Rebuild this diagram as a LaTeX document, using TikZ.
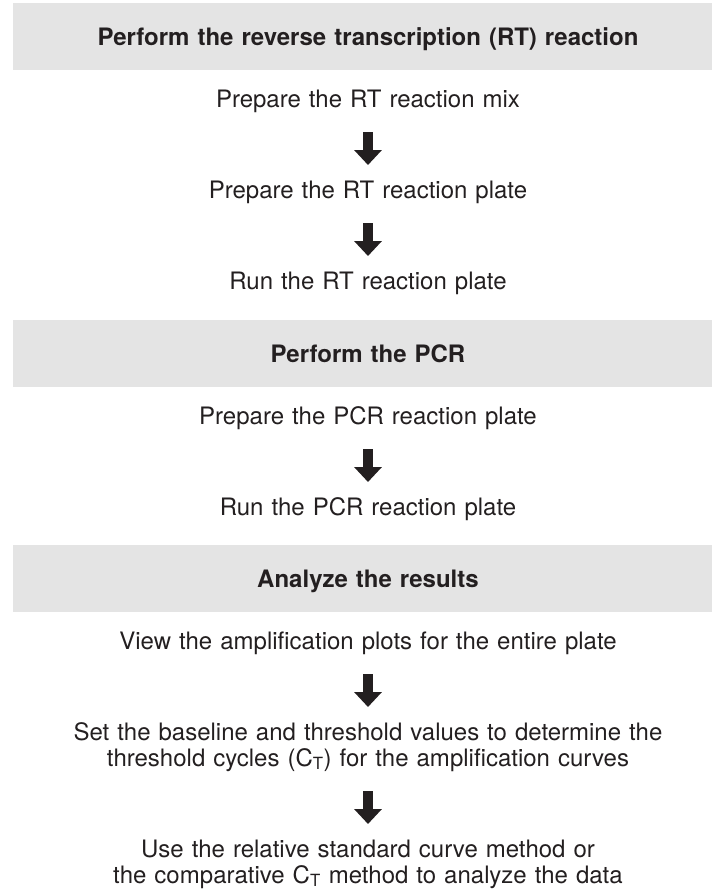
\documentclass[tikz,border=0pt]{standalone}
\usepackage{fontspec}
\setmainfont{TeX Gyre Heros}
\usetikzlibrary{arrows.meta}
\definecolor{bandgray}{HTML}{E4E4E4}
\definecolor{inkblack}{HTML}{231F20}

\begin{document}
\begin{tikzpicture}[x=1pt,y=-1pt,
  band/.style={fill=bandgray},
  task/.style={inner sep=0pt,text width=690pt,align=center,text height=17pt,text depth=0pt,anchor=north,text=inkblack,font=\fontsize{24}{26}\selectfont},
  title/.style={task,font=\fontsize{24}{26}\selectfont\bfseries},
  flow/.style={draw=inkblack,line width=10.5pt,-{Triangle[width=27pt,length=15pt]},shorten <=25pt,shorten >=16pt}]
\useasboundingbox (0,0) rectangle (712,892);
\fill[band] (13,3) rectangle (712,70);
\fill[band] (13,320) rectangle (712,387);
\fill[band] (13,545) rectangle (712,612);
\node[title] (rt) at (368,28) {Perform the reverse transcription (RT) reaction};
\node[task] (t1) at (368,90) {Prepare the RT reaction mix};
\node[task] (t2) at (368,181) {Prepare the RT reaction plate};
\node[task] (t3) at (368,272) {Run the RT reaction plate};
\node[title] (pcr) at (368,345) {Perform the PCR};
\node[task] (t4) at (368,407) {Prepare the PCR reaction plate};
\node[task] (t5) at (368,498) {Run the PCR reaction plate};
\node[title] (res) at (368,570) {Analyze the results};
\node[task] (t6) at (368,632) {View the amplification plots for the entire plate};
\node[task,text depth=26pt] (t7) at (368,723) {Set the baseline and threshold values to determine the\\threshold cycles (C\textsubscript{T}) for the amplification curves};
\node[task,text depth=26pt] (t8) at (368,840) {Use the relative standard curve method or\\the comparative C\textsubscript{T} method to analyze the data};
\draw[flow] (t1) -- (t2);
\draw[flow] (t2) -- (t3);
\draw[flow] (t4) -- (t5);
\draw[flow] (t6) -- (t7);
\draw[flow] (t7) -- (t8);
\end{tikzpicture}
\end{document}
